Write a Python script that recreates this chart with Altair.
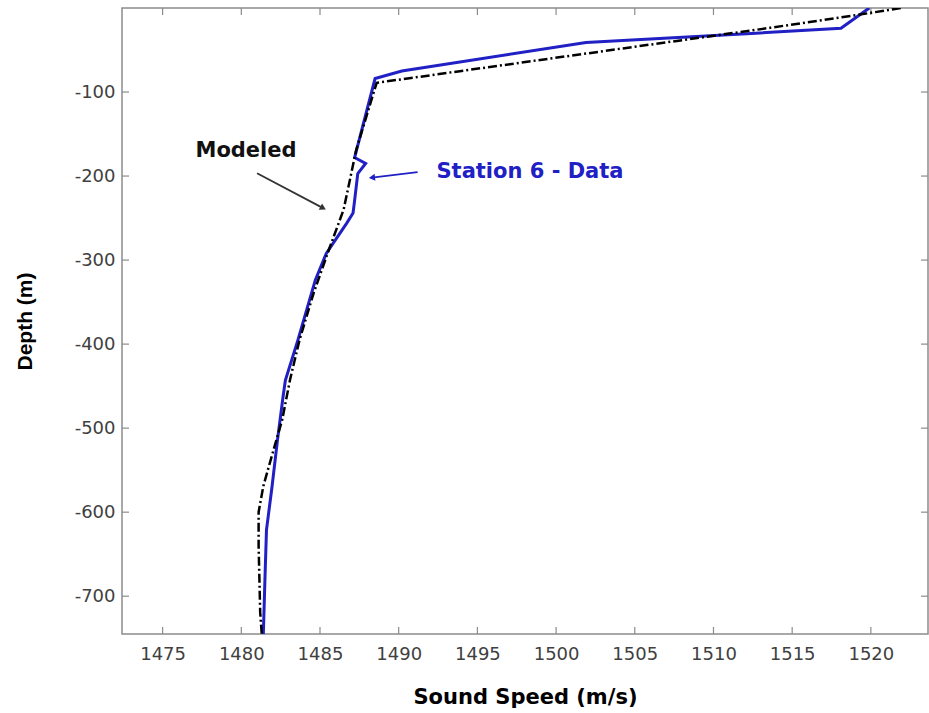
import math
import altair as alt
import pandas as pd

# ---------------- data ----------------
station_speed = [1519.9, 1518.1, 1512.7, 1501.9, 1490.2, 1488.5, 1487.2, 1487.9, 1487.4,
                 1487.2, 1487.1, 1486.7, 1485.4, 1484.7, 1483.6, 1482.8, 1482.65, 1482.3,
                 1481.95, 1481.6, 1481.5, 1481.4]
station_depth = [0, -24, -30, -41, -75, -84, -178, -185, -197,
                 -229, -244, -256, -292, -324, -395, -443, -463, -514,
                 -570, -621, -681, -745]

model_speed = [1521.9, 1518.9, 1512.7, 1488.6, 1487.3, 1486.5, 1485.5, 1484.6, 1483.7,
               1483.1, 1482.6, 1482.0, 1481.4, 1481.1, 1481.1, 1481.2, 1481.3]
model_depth = [0, -9, -26, -89, -169, -240, -291, -339, -395,
               -442, -490, -529, -569, -600, -640, -719, -745]

x_ticks = [1475, 1480, 1485, 1490, 1495, 1500, 1505, 1510, 1515, 1520]
y_ticks = [-100, -200, -300, -400, -500, -600, -700]

label_texts = ["Modeled", "Station 6 - Data"]
label_speed = [1480.3, 1492.4]
label_depth = [-170, -195]

arrow_start_speed = [1481.0, 1491.2]
arrow_start_depth = [-196.6, -195.4]
arrow_end_speed = [1485.2, 1488.3]
arrow_end_depth = [-238.2, -201.9]

# ---------------- layout ----------------
XMIN, XMAX = 1472.42, 1523.63
YMIN, YMAX = -745, 0
W, H = 806, 626
BLUE = "#2020c4"
GRAY = "#8c8c8c"

xscale = alt.Scale(domain=[XMIN, XMAX], nice=False, zero=False)
yscale = alt.Scale(domain=[YMIN, YMAX], nice=False, zero=False)
LABEL_EXPR = "'' + datum.value"


def X(field):
    return alt.X(field, type="quantitative", scale=xscale, title="Sound Speed (m/s)",
                 axis=alt.Axis(values=x_ticks, labelExpr=LABEL_EXPR))


def Y(field):
    return alt.Y(field, type="quantitative", scale=yscale, title="Depth (m)",
                 axis=alt.Axis(values=y_ticks, labelExpr=LABEL_EXPR))


station_df = pd.DataFrame({"speed": station_speed, "depth": station_depth,
                           "i": range(len(station_speed))})
model_df = pd.DataFrame({"speed": model_speed, "depth": model_depth,
                         "i": range(len(model_speed))})

station_line = alt.Chart(station_df).mark_line(color=BLUE, strokeWidth=3, clip=True).encode(
    x=X("speed"), y=Y("depth"), order="i:Q")
model_line = alt.Chart(model_df).mark_line(
    color="black", strokeWidth=2.5, strokeDash=[9, 3, 2, 3], clip=True).encode(
    x=X("speed"), y=Y("depth"), order="i:Q")

# inward box ticks (MATLAB style)
xt = pd.DataFrame({"t": x_ticks})
yt = pd.DataFrame({"t": y_ticks})
TL = 7
tick_style = dict(color=GRAY, strokeWidth=1.2)
bottom_ticks = alt.Chart(xt).mark_rule(**tick_style).encode(
    x=X("t"), y=alt.value(H), y2=alt.value(H - TL))
top_ticks = alt.Chart(xt).mark_rule(**tick_style).encode(
    x=X("t"), y=alt.value(0), y2=alt.value(TL))
left_ticks = alt.Chart(yt).mark_rule(**tick_style).encode(
    y=Y("t"), x=alt.value(0), x2=alt.value(TL))
right_ticks = alt.Chart(yt).mark_rule(**tick_style).encode(
    y=Y("t"), x=alt.value(W), x2=alt.value(W - TL))

# annotation texts
modeled_text = alt.Chart(pd.DataFrame({"txt": [label_texts[0]], "s": [label_speed[0]],
                                       "d": [label_depth[0]]})).mark_text(
    font="DejaVu Sans", fontWeight="bold", fontSize=21, color="#111111",
    align="center", baseline="middle").encode(x=X("s"), y=Y("d"), text="txt:N")
station_text = alt.Chart(pd.DataFrame({"txt": [label_texts[1]], "s": [label_speed[1]],
                                       "d": [label_depth[1]]})).mark_text(
    font="DejaVu Sans", fontWeight="bold", fontSize=21, color=BLUE,
    align="left", baseline="middle").encode(x=X("s"), y=Y("d"), text="txt:N")

# arrows
sx = W / (XMAX - XMIN)
sy = H / (YMAX - YMIN)
arrow_layers = []
arrow_colors = ["#333333", BLUE]
for k in range(2):
    seg = pd.DataFrame({"s": [arrow_start_speed[k], arrow_end_speed[k]],
                        "d": [arrow_start_depth[k], arrow_end_depth[k]],
                        "i": [0, 1]})
    arrow_layers.append(alt.Chart(seg).mark_line(color=arrow_colors[k], strokeWidth=1.8).encode(
        x=X("s"), y=Y("d"), order="i:Q"))
    dx = (arrow_end_speed[k] - arrow_start_speed[k]) * sx
    dy = -(arrow_end_depth[k] - arrow_start_depth[k]) * sy
    ang = math.degrees(math.atan2(dx, -dy)) % 360
    head = pd.DataFrame({"s": [arrow_end_speed[k]], "d": [arrow_end_depth[k]]})
    arrow_layers.append(alt.Chart(head).mark_point(
        shape="triangle-up", filled=True, size=50, angle=ang, color=arrow_colors[k],
        opacity=1).encode(x=X("s"), y=Y("d")))

chart = alt.layer(
    bottom_ticks, top_ticks, left_ticks, right_ticks,
    station_line, model_line,
    modeled_text, station_text, *arrow_layers
).properties(
    width=W, height=H,
    autosize=alt.AutoSizeParams(type="none"),
    padding={"left": 122, "top": 8, "right": 1, "bottom": 79},
    background="white",
).configure_view(
    stroke=GRAY, strokeWidth=1.5
).configure_axis(
    grid=False, domain=False, ticks=False,
    labelFont="DejaVu Sans", labelFontSize=18, labelColor="#404040",
    titleColor="black", titleFontWeight="bold",
).configure_axisX(
    labelPadding=11, titleFont="DejaVu Sans", titleFontSize=21,
    titleBaseline="middle", titleY=63,
).configure_axisY(
    labelPadding=7, titleFont="Liberation Sans", titleFontSize=21,
    titleBaseline="middle", titleX=-97,
)

chart.save("out.html", embed_options={"renderer": "svg", "actions": False})
